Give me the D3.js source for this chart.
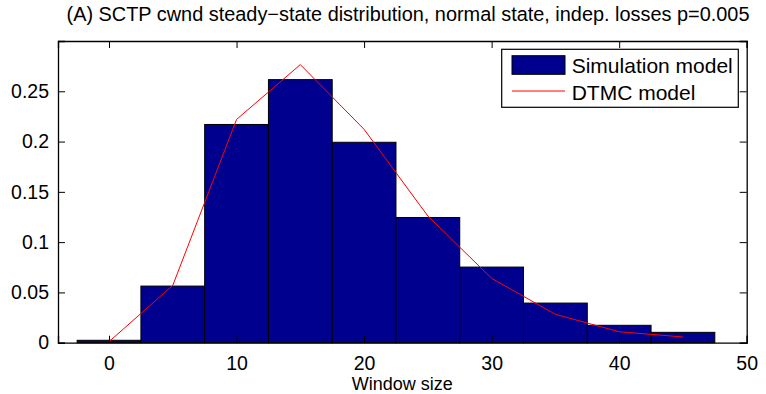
<!DOCTYPE html>
<html><head><meta charset="utf-8">
<script src="https://cdn.jsdelivr.net/npm/d3@7"></script>
<style>body{margin:0;background:#fff}svg{display:block}text{font-family:"Liberation Sans",Arial,sans-serif;fill:#000}</style>
</head><body>
<script>
const binCenters = [0,5,10,15,20,25,30,35,40,45];
const simValues = [0.0024,0.0563,0.217,0.2616,0.1993,0.1245,0.0752,0.0394,0.0173,0.0103];
const dtmcX = [0,5,10,15,20,25,30,35,40,45];
const dtmcValues = [0.001,0.057,0.222,0.2765,0.2122,0.126,0.064,0.0282,0.0109,0.0057];
const xTicks = [0,10,20,30,40,50];
const yTicks = [0,0.05,0.1,0.15,0.2,0.25];
const titleText = "(A) SCTP cwnd steady\u2212state distribution, normal state, indep. losses p=0.005";
const xLabel = "Window size";
const legendLabels = ["Simulation model","DTMC model"];

const W=766,H=394;
const m={l:58,r:19.3,t:41,b:51.3};
const svg=d3.select("body").append("svg").attr("width",W).attr("height",H);
const x=d3.scaleLinear().domain([-4,50]).range([m.l,W-m.r]);
const y=d3.scaleLinear().domain([0,0.3]).range([H-m.b,m.t]);
const binW=5;

// bars
svg.append("g").selectAll("rect").data(binCenters).join("rect")
  .attr("x",(d)=>x(d-binW/2)).attr("width",(d)=>x(d+binW/2)-x(d-binW/2))
  .attr("y",(d,i)=>y(simValues[i])).attr("height",(d,i)=>y(0)-y(simValues[i]))
  .attr("fill","#00008F").attr("stroke","#000").attr("stroke-width",1);

// line
const line=d3.line().x((d,i)=>x(dtmcX[i])).y(d=>y(d));
svg.append("path").datum(dtmcValues).attr("d",line).attr("fill","none").attr("stroke","#ff0000").attr("stroke-width",1);

// axes (MATLAB style, ticks inside)
const tl=7;
const fs=19.5;
const gx=svg.append("g").attr("transform",`translate(0,${y(0)})`).call(d3.axisBottom(x).tickValues(xTicks).tickSize(-tl).tickPadding(13).tickFormat(d3.format("d")));
const gxt=svg.append("g").attr("transform",`translate(0,${y(0.3)})`).call(d3.axisTop(x).tickValues(xTicks).tickSize(-tl).tickFormat(""));
const gy=svg.append("g").attr("transform",`translate(${x(-4)},0)`).call(d3.axisLeft(y).tickValues(yTicks).tickSize(-tl).tickPadding(9).tickFormat(d=>d===0?"0":String(+d.toFixed(2))));
const gyr=svg.append("g").attr("transform",`translate(${x(50)},0)`).call(d3.axisRight(y).tickValues(yTicks).tickSize(-tl).tickFormat(""));
[gx,gxt,gy,gyr].forEach(g=>{
  g.select(".domain").attr("stroke","#000").attr("stroke-width",1.3);
  g.selectAll(".tick line").attr("stroke","#000").attr("stroke-width",1);
  g.selectAll("text").attr("font-size",fs).attr("font-family","Liberation Sans, Arial, sans-serif").attr("fill","#000");
});
gx.selectAll(".tick text").attr("dy","0.71em");

// title & label
svg.append("text").attr("x",408).attr("y",20.5).attr("text-anchor","middle").attr("font-size",19.9).text(titleText);
svg.append("text").attr("x",x(23)).attr("y",390).attr("text-anchor","middle").attr("font-size",18).text(xLabel);

// legend
const lg=svg.append("g");
lg.append("rect").attr("x",501.7).attr("y",49.3).attr("width",236.6).attr("height",58).attr("fill","#fff").attr("stroke","#000").attr("stroke-width",1.2);
lg.append("rect").attr("x",512).attr("y",55.7).attr("width",53).attr("height",18.6).attr("fill","#00008F").attr("stroke","#000");
lg.append("line").attr("x1",512).attr("x2",565).attr("y1",91).attr("y2",91).attr("stroke","#ff0000").attr("stroke-width",1);
lg.append("text").attr("x",571.7).attr("y",73).attr("font-size",21).text(legendLabels[0]);
lg.append("text").attr("x",571.7).attr("y",99.5).attr("font-size",21).text(legendLabels[1]);
</script>
</body></html>
